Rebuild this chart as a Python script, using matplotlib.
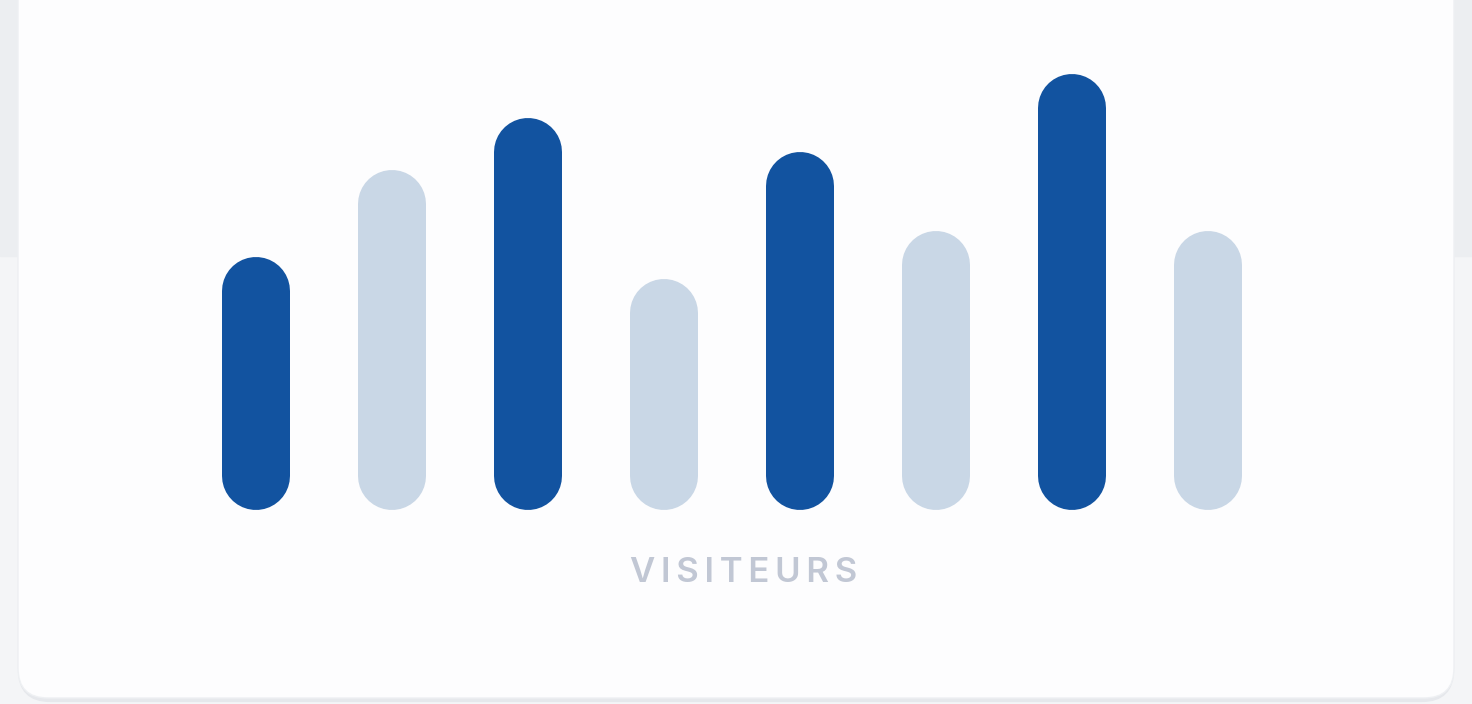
import matplotlib.pyplot as plt
from matplotlib.patches import FancyBboxPatch, Rectangle

# visitors per period (relative values)
values = [58, 78, 90, 53, 82, 64, 100, 64]
highlight = [True, False, True, False, True, False, True, False]
label = "VISITEURS"

dark = "#1253a0"
light = "#c9d7e6"

W, H = 1472, 704
fig = plt.figure(figsize=(W / 100, H / 100), dpi=100)
fig.patch.set_facecolor("#f4f5f7")

# background + card, drawn in pixel coords
bg = fig.add_axes([0, 0, 1, 1])
bg.set_xlim(0, W)
bg.set_ylim(H, 0)
bg.axis("off")
bg.add_patch(Rectangle((0, 0), W, 256, color="#eceef1", zorder=0))
bg.add_patch(FancyBboxPatch((20, -40), W - 40, 740, boxstyle="round,pad=0,rounding_size=30",
                            fc="none", ec="#e6e8ec", lw=3, zorder=1))
bg.add_patch(FancyBboxPatch((18, -40), W - 36, 738, boxstyle="round,pad=0,rounding_size=30",
                            fc="#fdfdfe", ec="#eef0f3", lw=1, zorder=2))
bg.text(W / 2 + 8, 573, "\u2009".join(label), ha="center", va="center", fontsize=25,
        fontweight="semibold", family=["Inter", "DejaVu Sans"], color="#c1c7d4", zorder=3)

# bars axes: 136 px per x unit, 4.36 px per y unit
px_x, px_y = 136, 4.36
ax = fig.add_axes([120 / W, 194 / H, 1224 / W, px_y * 110 / H])
ax.set_xlim(-1, 8)
ax.set_ylim(0, 110)
ax.axis("off")
ax.patch.set_alpha(0)

# bars as thick lines with round caps: width 0.5 x-units
bar_w = 0.5
lw_pt = bar_w * px_x * 72 / 100
r = bar_w / 2 * px_x / px_y  # cap radius in y units
xs = list(range(len(values)))
colors = [dark if h else light for h in highlight]
ax.vlines(xs, [r] * len(values), [v - r for v in values], colors=colors,
          linewidth=lw_pt, capstyle="round")

fig.savefig("out.png", dpi=100, facecolor=fig.get_facecolor())
